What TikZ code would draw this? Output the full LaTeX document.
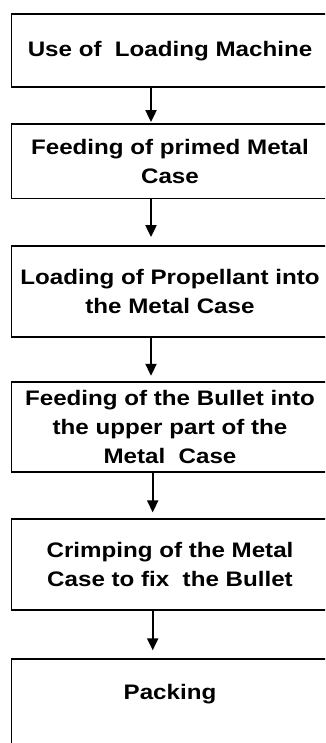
\documentclass[tikz,border=0pt]{standalone}
\usepackage{fontspec}
\setmainfont{Liberation Sans}[FakeStretch=1.15]
\usetikzlibrary{arrows.meta}
\tikzset{
  txt/.style={font=\bfseries\fontsize{21}{29}\selectfont},
  box/.style={draw, line width=1.8pt, minimum width=317pt, align=center, inner sep=0pt, txt},
  arr/.style={line width=2pt, -{Triangle[width=11pt,length=12pt]}}
}
\begin{document}
\begin{tikzpicture}[x=1pt,y=-1pt]
\path[use as bounding box, fill=white] (0,0) rectangle (325,743);
\clip (0,0) rectangle (325,743);
\node[box, minimum height=73.3pt] (b1) at (170,50.65) {Use of\ \ Loading Machine};
\node[box, minimum height=74.5pt] (b2) at (170,161.25) {Feeding of primed Metal\\Case};
\node[box, minimum height=91.3pt] (b3) at (170,291.65) {Loading of Propellant into\\the Metal Case};
\node[box, minimum height=90pt] (b4) at (170,426.7) {Feeding of the Bullet into\\the upper part of the\\Metal\ \ Case};
\node[box, minimum height=90.7pt] (b5) at (170,564.65) {Crimping of the Metal\\Case to fix\ \ the Bullet};
\node[box, minimum height=120pt, anchor=north,
      label={[anchor=center, yshift=-35.7pt, txt]north:Packing}] (b6) at (170,658.3) {};
\draw[arr, shorten >=1pt] ([xshift=-19pt]b1.south) -- ([xshift=-19pt]b2.north);
\draw[arr, shorten >=8pt] ([xshift=-19pt]b2.south) -- ([xshift=-19pt]b3.north);
\draw[arr, shorten >=5pt] ([xshift=-19pt]b3.south) -- ([xshift=-19pt]b4.north);
\draw[arr, shorten >=6pt] ([xshift=-17.3pt]b4.south) -- ([xshift=-17.3pt]b5.north);
\draw[arr, shorten >=8pt] ([xshift=-17.3pt]b5.south) -- ([xshift=-17.3pt]b6.north);
\end{tikzpicture}
\end{document}
